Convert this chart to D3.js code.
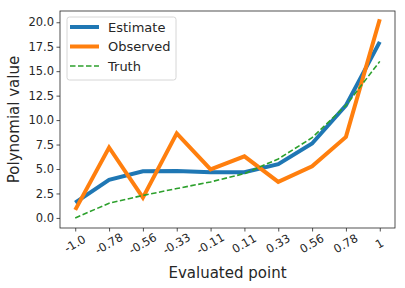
<!DOCTYPE html>
<html>
<head>
<meta charset="utf-8">
<script src="https://cdn.jsdelivr.net/npm/d3@7"></script>
<style>
  body { margin: 0; background: white; }
  text { font-family: "DejaVu Sans", sans-serif; fill: #262626; }
</style>
</head>
<body>
<script>
var points = ["-1.0", "-0.78", "-0.56", "-0.33", "-0.11", "0.11", "0.33", "0.56", "0.78", "1"];
var estimate = [1.57, 3.9, 4.77, 4.8, 4.67, 4.67, 5.5, 7.6, 11.5, 18.0];
var observed = [0.82, 7.2, 2.08, 8.65, 4.97, 6.3, 3.68, 5.28, 8.28, 20.3];
var truth = [0, 1.5, 2.3, 3.0, 3.68, 4.53, 6.03, 8.2, 11.5, 16.0];
var yTicks = [0, 2.5, 5, 7.5, 10, 12.5, 15, 17.5, 20];

var width = 405, height = 288;
var plotL = 60, plotR = 395, plotT = 11, plotB = 228;

var svg = d3.select("body").append("svg")
    .attr("width", width)
    .attr("height", height);

var x = d3.scaleLinear().domain([-0.45, 9.45]).range([plotL, plotR]);
var y = d3.scaleLinear().domain([-1.03, 21.15]).range([plotB, plotT]);

// axes
var xAxis = svg.append("g")
    .attr("transform", "translate(0," + plotB + ")")
    .call(d3.axisBottom(x).tickValues(d3.range(points.length))
        .tickFormat(function(i) { return points[i]; })
        .tickSize(3.5).tickSizeOuter(0));
xAxis.selectAll("text")
    .attr("transform", "translate(-4,10) rotate(-30)")
    .attr("dy", "0.35em")
    .style("text-anchor", "middle")
    .style("font-size", "11.5px");

var yAxis = svg.append("g")
    .attr("transform", "translate(" + plotL + ",0)")
    .call(d3.axisLeft(y).tickValues(yTicks)
        .tickFormat(d3.format(".1f"))
        .tickSize(3.5).tickSizeOuter(0));
yAxis.selectAll("text").style("font-size", "11.5px").attr("x", -6);

svg.selectAll(".domain").remove();
svg.selectAll(".tick line").attr("stroke", "#262626").attr("stroke-width", 0.8);
svg.append("rect")
    .attr("x", plotL).attr("y", plotT)
    .attr("width", plotR - plotL).attr("height", plotB - plotT)
    .attr("fill", "none").attr("stroke", "#262626").attr("stroke-width", 0.8);

// lines
var line = d3.line()
    .x(function(d, i) { return x(i); })
    .y(function(d) { return y(d); });

var series = [
  {name: "Estimate", values: estimate, color: "#1f77b4", width: 4, dash: null},
  {name: "Observed", values: observed, color: "#ff7f0e", width: 4, dash: null},
  {name: "Truth", values: truth, color: "#2ca02c", width: 1.6, dash: "5.5,2.5"}
];

svg.selectAll("path.series")
    .data(series).enter().append("path")
    .attr("class", "series")
    .attr("d", function(d) { return line(d.values); })
    .attr("fill", "none")
    .attr("stroke", function(d) { return d.color; })
    .attr("stroke-width", function(d) { return d.width; })
    .attr("stroke-dasharray", function(d) { return d.dash; });

// legend
var legend = svg.append("g").attr("transform", "translate(67,17)");
legend.append("rect")
    .attr("width", 109).attr("height", 63).attr("rx", 2.5)
    .attr("fill", "white").attr("fill-opacity", 0.8)
    .attr("stroke", "#cccccc").attr("stroke-width", 0.8);
var items = legend.selectAll("g.item")
    .data(series).enter().append("g")
    .attr("transform", function(d, i) { return "translate(0," + (10 + i * 19.5) + ")"; });
items.append("line")
    .attr("x1", 3).attr("x2", 32)
    .attr("stroke", function(d) { return d.color; })
    .attr("stroke-width", function(d) { return d.width; })
    .attr("stroke-dasharray", function(d) { return d.dash; });
items.append("text")
    .attr("x", 41).attr("dy", "0.35em")
    .style("font-size", "13px")
    .text(function(d) { return d.name; });

// axis titles
svg.append("text")
    .attr("x", (plotL + plotR) / 2).attr("y", 278)
    .attr("text-anchor", "middle")
    .style("font-size", "15px")
    .text("Evaluated point");
svg.append("text")
    .attr("transform", "translate(19," + ((plotT + plotB) / 2) + ") rotate(-90)")
    .attr("text-anchor", "middle")
    .style("font-size", "15px")
    .text("Polynomial value");
</script>
</body>
</html>
